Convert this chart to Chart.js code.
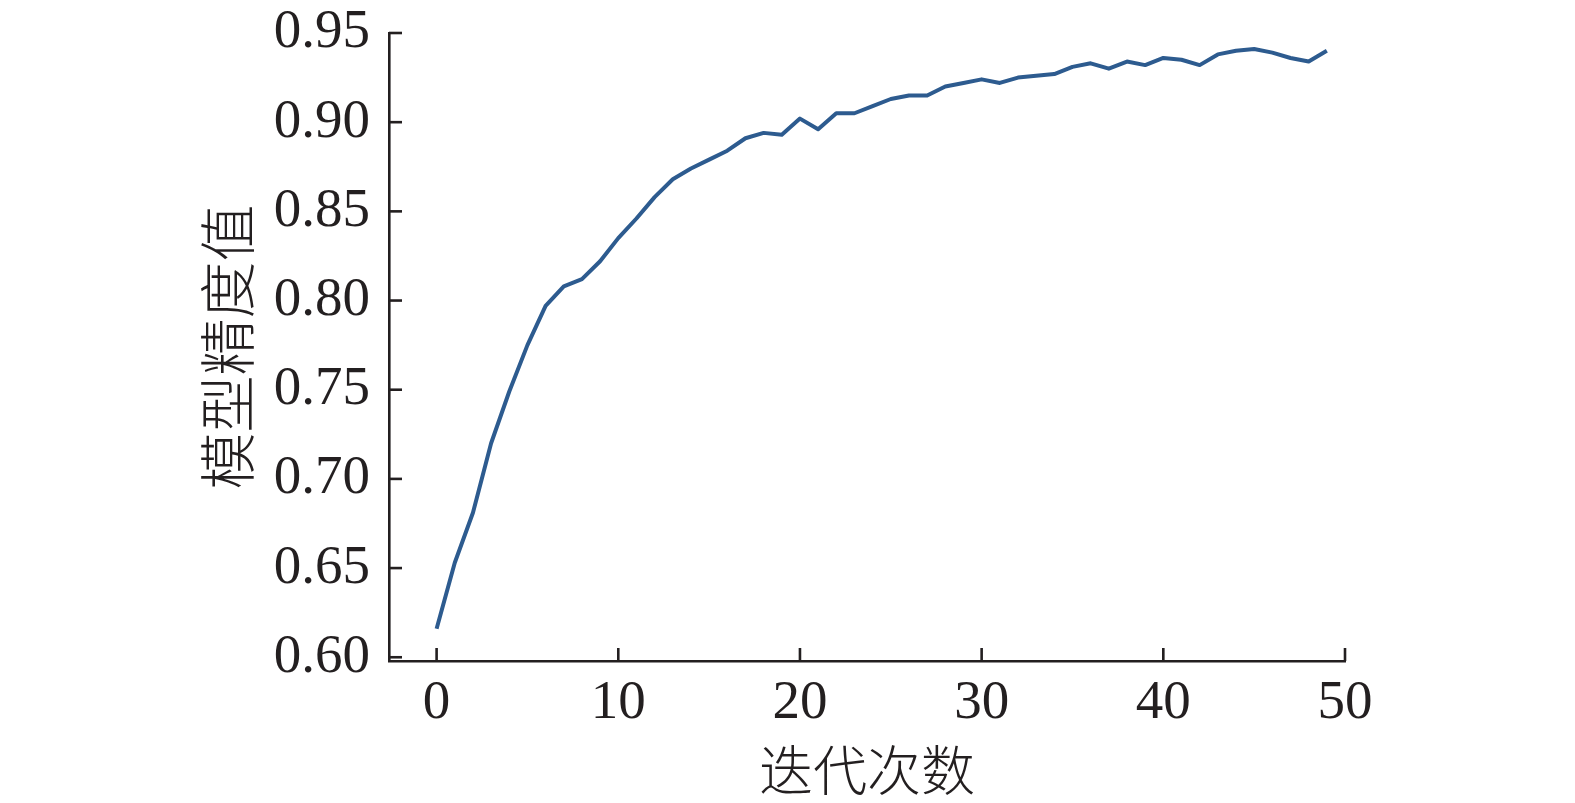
<!DOCTYPE html>
<html>
<head>
<meta charset="utf-8">
<script src="https://cdn.jsdelivr.net/npm/chart.js@4/dist/chart.umd.min.js"></script>
<style>
  html, body { margin: 0; padding: 0; background: #ffffff; }
  #wrap { width: 1575px; height: 803px; }
</style>
</head>
<body>
<div id="wrap"><canvas id="c" width="1575" height="803"></canvas></div>
<script>
const iterations = [0,1,2,3,4,5,6,7,8,9,10,11,12,13,14,15,16,17,18,19,20,21,22,23,24,25,26,27,28,29,30,31,32,33,34,35,36,37,38,39,40,41,42,43,44,45,46,47,48,49];
const accuracy = [0.616,0.653,0.681,0.720,0.749,0.775,0.797,0.808,0.812,0.822,0.835,0.846,0.858,0.868,0.874,0.879,0.884,0.891,0.894,0.893,0.902,0.896,0.905,0.905,0.909,0.913,0.915,0.915,0.920,0.922,0.924,0.922,0.925,0.926,0.927,0.931,0.933,0.930,0.934,0.932,0.936,0.935,0.932,0.938,0.940,0.941,0.939,0.936,0.934,0.940];
const xTicks = [0,10,20,30,40,50];
const yTicks = [0.60,0.65,0.70,0.75,0.80,0.85,0.90,0.95];
const xTitle = '迭代次数';
const yTitle = '模型精度值';

const axisColor = '#231f20';
const serif = "'Liberation Serif', 'DejaVu Serif', serif";
const cjk = "'Noto Sans CJK SC', 'Noto Sans CJK JP', sans-serif";

const innerTicks = {
  id: 'innerTicks',
  afterDraw(chart) {
    const {ctx, chartArea, scales} = chart;
    ctx.save();
    ctx.strokeStyle = axisColor;
    ctx.lineWidth = 2.6;
    ctx.lineCap = 'butt';
    const len = 13;
    scales.y.ticks.forEach(t => {
      const py = scales.y.getPixelForValue(t.value);
      ctx.beginPath();
      ctx.moveTo(chartArea.left, py);
      ctx.lineTo(chartArea.left + len, py);
      ctx.stroke();
    });
    scales.x.ticks.forEach(t => {
      const px = scales.x.getPixelForValue(t.value);
      ctx.beginPath();
      ctx.moveTo(px, chartArea.bottom);
      ctx.lineTo(px, chartArea.bottom - len);
      ctx.stroke();
    });
    ctx.restore();
  }
};

new Chart(document.getElementById('c'), {
  type: 'line',
  data: {
    datasets: [{
      data: iterations.map((x, i) => ({x: x, y: accuracy[i]})),
      borderColor: '#2d5b8f',
      borderWidth: 4,
      pointRadius: 0,
      tension: 0,
      borderJoinStyle: 'round',
      fill: false
    }]
  },
  options: {
    responsive: false,
    animation: false,
    devicePixelRatio: 1,
    layout: { padding: { left: 0, right: 230, top: 33, bottom: 0 } },
    plugins: { legend: { display: false }, tooltip: { enabled: false } },
    scales: {
      x: {
        type: 'linear',
        min: -2.62,
        max: 50,
        afterBuildTicks(scale) { scale.ticks = xTicks.map(v => ({value: v})); },
        afterFit(scale) { scale.height = 803 - 661; scale.paddingLeft = 0; scale.paddingRight = 0; },
        grid: { display: false, drawTicks: false },
        border: { display: true, color: axisColor, width: 2.6 },
        ticks: {
          color: axisColor,
          font: { family: serif, size: 55 },
          padding: 10,
          maxRotation: 0
        },
        title: {
          display: true,
          text: xTitle,
          color: axisColor,
          font: { family: cjk, size: 54, weight: '300' },
          padding: { top: 0, bottom: 0 }
        }
      },
      y: {
        type: 'linear',
        min: 0.5979,
        max: 0.95,
        afterBuildTicks(scale) { scale.ticks = yTicks.map(v => ({value: v})); },
        afterFit(scale) { scale.width = 389; scale.paddingTop = 0; scale.paddingBottom = 0; },
        grid: { display: false, drawTicks: false },
        border: { display: true, color: axisColor, width: 2.6 },
        ticks: {
          color: axisColor,
          font: { family: serif, size: 55 },
          padding: 19,
          callback: v => Number(v).toFixed(2)
        },
        title: {
          display: true,
          text: yTitle,
          color: axisColor,
          font: { family: cjk, size: 57, weight: '300' },
          padding: { top: 193, bottom: 0 }
        }
      }
    }
  },
  plugins: [innerTicks]
});
</script>
</body>
</html>
